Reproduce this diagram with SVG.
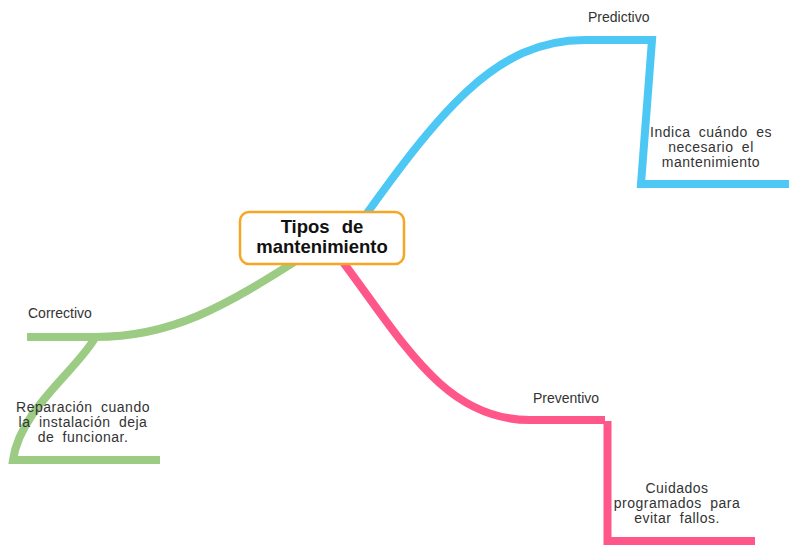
<svg xmlns="http://www.w3.org/2000/svg" width="799" height="550" viewBox="0 0 799 550">
<style>
.br{fill:none;stroke-width:8;stroke-linejoin:miter;stroke-linecap:butt}
.blue{stroke:#4DC8F4}
.pink{stroke:#FF578A}
.green{stroke:#9CCB84}
.lbl{font-family:"Liberation Sans",Arial,sans-serif;font-size:14px;fill:#333}
.sub{font-family:"Liberation Sans",Arial,sans-serif;font-size:14px;fill:#333;text-anchor:middle;letter-spacing:0.5px;word-spacing:4px}
.title{font-family:"Liberation Sans",Arial,sans-serif;font-size:18.5px;font-weight:bold;fill:#111;text-anchor:middle;word-spacing:7px}
</style>
<rect width="799" height="550" fill="#fff"/>
<g id="connectors">
<path class="br blue" d="M 350 237 C 440 110, 495 40, 585 40 L 652 40 L 641 184 L 789 184"/>
<path class="br pink" d="M 330 245 C 400 335, 440 420, 530 420 L 605 420"/>
<path class="br pink" d="M 607.5 421 L 607.5 541 L 755 541"/>
<path class="br green" d="M 310 252 C 220 310, 170 337, 95 337 L 27 337"/>
<path class="br green" d="M 95 338 C 75 372, 20 410, 13 460 L 160 460"/>
</g>
<g id="center">
<rect x="240" y="212" width="164" height="52" rx="9" ry="9" fill="#fff" stroke="#F6A623" stroke-width="2.5"/>
<text class="title" x="322" y="233">Tipos de</text>
<text class="title" x="322" y="253">mantenimiento</text>
</g>
<g id="predictivo">
<text class="lbl" x="588" y="22">Predictivo</text>
<text class="sub" x="711" y="137">Indica cuándo es</text>
<text class="sub" x="711" y="152">necesario el</text>
<text class="sub" x="711" y="167">mantenimiento</text>
</g>
<g id="correctivo">
<text class="lbl" x="28" y="318">Correctivo</text>
<text class="sub" x="83" y="412">Reparación cuando</text>
<text class="sub" x="83" y="427">la instalación deja</text>
<text class="sub" x="83" y="442">de funcionar.</text>
</g>
<g id="preventivo">
<text class="lbl" x="533" y="403">Preventivo</text>
<text class="sub" x="677" y="493">Cuidados</text>
<text class="sub" x="677" y="508">programados para</text>
<text class="sub" x="677" y="523">evitar fallos.</text>
</g>
</svg>
